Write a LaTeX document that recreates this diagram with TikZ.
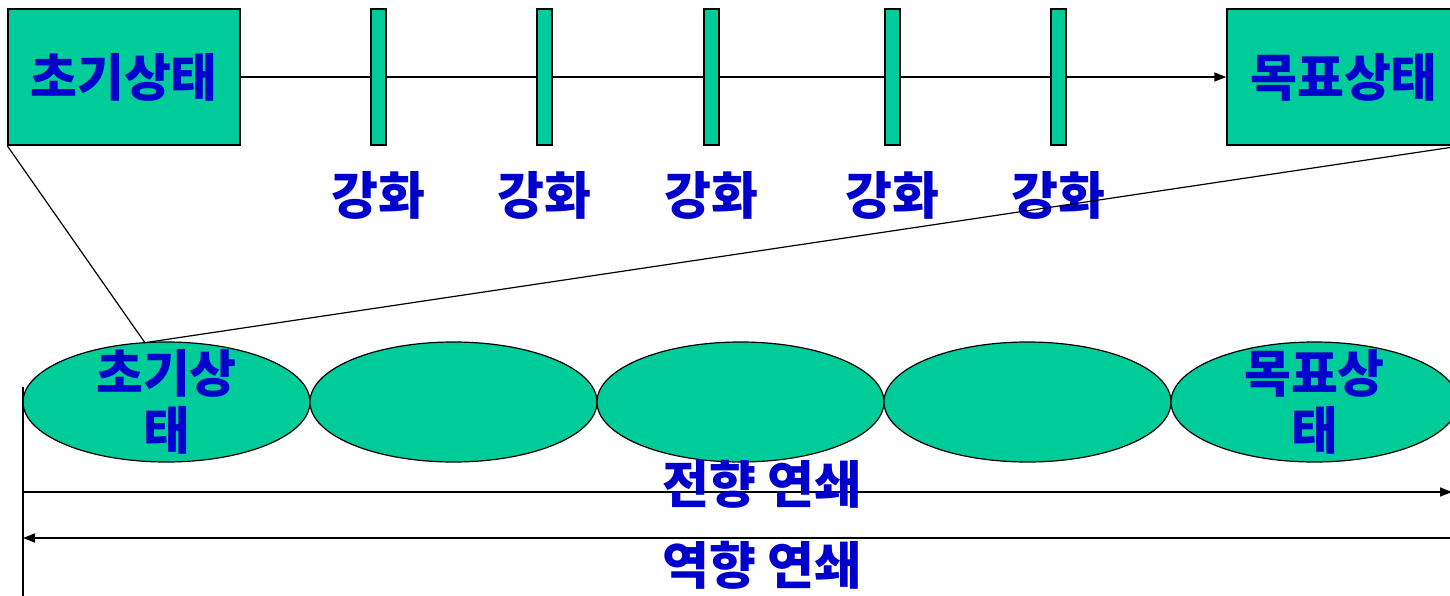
\documentclass[tikz,border=0pt]{standalone}
\usepackage{fontspec}
\setmainfont{Noto Sans CJK KR}
\usepackage{tikz}
\usetikzlibrary{arrows.meta,positioning,shapes.geometric}
\definecolor{stagegreen}{RGB}{0,204,153}
\definecolor{textblue}{RGB}{0,0,204}
\newcommand{\hfont}{\fontsize{51}{57}\selectfont\bfseries\color{textblue}}

\begin{document}
\begin{tikzpicture}[x=1pt, y=-1pt,
box/.style={draw, line width=1.5pt, fill=stagegreen, minimum height=136pt, inner sep=0pt, font=\hfont},
bar/.style={draw, line width=1.5pt, fill=stagegreen, minimum width=15pt, minimum height=136pt, inner sep=0pt},
stage/.style={draw, ellipse, line width=1.2pt, fill=stagegreen, minimum width=287pt, minimum height=120pt, inner sep=0pt, outer sep=0pt},
lbl/.style={font=\hfont, inner sep=0pt, align=center},
arrow/.style={-{Triangle[length=12pt,width=9pt]}, line width=1.5pt}
]
\clip (0,0) rectangle (1450,596);
% top row
\node[box, minimum width=232pt] (init) at (124,77) {초기상태};
\node[box, minimum width=234pt] (goal) at (1344,77) {목표상태};
\draw[arrow] (init) -- (goal);
\foreach \n/\x in {1/378.5,2/544.5,3/711.5,4/892.5,5/1058.5} {
  \node[bar] (b\n) at (\x,77) {};
  \node[lbl, below=26pt of b\n] (r\n) {강화};
}
% chain of stages
\node[stage] (e1) at (166.5,402) {};
\node[stage, right=0pt of e1] (e2) {};
\node[stage, right=0pt of e2] (e3) {};
\node[stage, right=0pt of e3] (e4) {};
\node[stage, right=0pt of e4] (e5) {};
\node[lbl] (t1) at (e1) {초기상\\태};
\node[lbl] (t5) at (e5) {목표상\\태};
\draw[line width=1.2pt] (init.south west) -- (e1.110) -- (goal.south east);
% forward / backward
\coordinate (vtop) at (23,387);
\coordinate (vbot) at (23,600);
\coordinate (fs) at (23,492);
\coordinate (fe) at (1452,492);
\coordinate (bs) at (1452,538);
\coordinate (be) at (23,538);
\draw[line width=1.2pt] (vtop) -- (vbot);
\draw[arrow] (fs) -- (fe);
\draw[arrow] (bs) -- (be);
\node[lbl] (fwd) at (762,484) {전향 연쇄};
\node[lbl] (bwd) at (762,565) {역향 연쇄};
\end{tikzpicture}
\end{document}
